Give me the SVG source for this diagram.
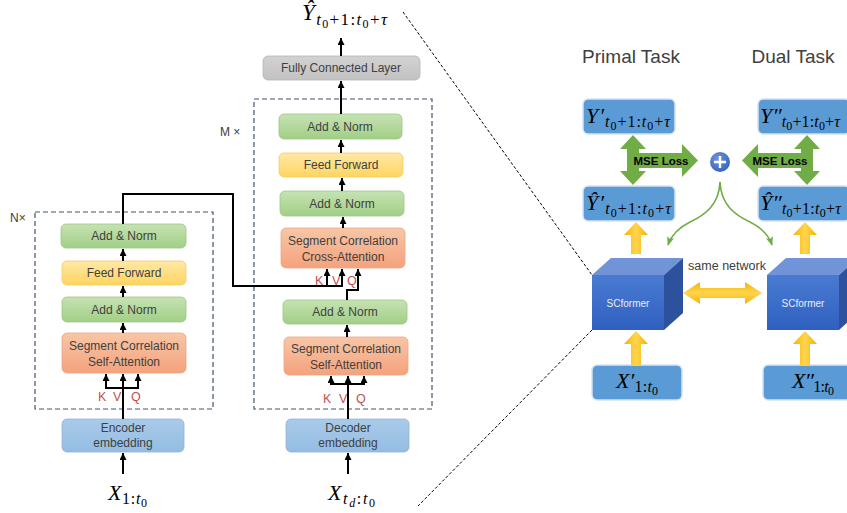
<svg xmlns="http://www.w3.org/2000/svg" width="847" height="513" viewBox="0 0 847 513">
  <defs>
    <style>
      .lbl { font-family: "Liberation Sans", Arial, sans-serif; font-size: 12px; fill: #404040; text-anchor: middle; }
      .kvq { font-family: "Liberation Sans", Arial, sans-serif; font-size: 12.5px; fill: #c0504d; }
      .math { font-family: "Liberation Serif", "DejaVu Serif", serif; fill: #000; }
      .it { font-style: italic; }
      .conn { fill: none; stroke: #000; stroke-width: 2; }
      .dash { fill: none; stroke: #44546a; stroke-width: 1.2; stroke-dasharray: 5 3; }
      .diag { fill: none; stroke: #000; stroke-width: 1; stroke-dasharray: 3 2; }
      .title { font-family: "Liberation Sans", Arial, sans-serif; font-size: 19px; fill: #404040; text-anchor: middle; }
      .mse { font-family: "Liberation Sans", Arial, sans-serif; font-size: 11.5px; font-weight: bold; fill: #000; text-anchor: middle; }
      .bluebox { fill: #5b9bd5; stroke: #d6e4f3; stroke-width: 1.5; }
      .green { fill: #70ad47; }
      .yellow { fill: url(#gYel); }
      .yellowh { fill: url(#gYelH); }
      .curve { fill: none; stroke: #70ad47; stroke-width: 1.6; }
    </style>
    <linearGradient id="gGreen" x1="0" y1="0" x2="0" y2="1">
      <stop offset="0" stop-color="#c6e2b3"/>
      <stop offset="1" stop-color="#a1cf86"/>
    </linearGradient>
    <linearGradient id="gYellow" x1="0" y1="0" x2="0" y2="1">
      <stop offset="0" stop-color="#ffe9a6"/>
      <stop offset="1" stop-color="#ffd461"/>
    </linearGradient>
    <linearGradient id="gSalmon" x1="0" y1="0" x2="0" y2="1">
      <stop offset="0" stop-color="#f8c6a6"/>
      <stop offset="1" stop-color="#f4a27d"/>
    </linearGradient>
    <linearGradient id="gBlueL" x1="0" y1="0" x2="0" y2="1">
      <stop offset="0" stop-color="#a9cbe9"/>
      <stop offset="1" stop-color="#94bce3"/>
    </linearGradient>
    <linearGradient id="gGray" x1="0" y1="0" x2="0" y2="1">
      <stop offset="0" stop-color="#d2d2d2"/>
      <stop offset="1" stop-color="#c2c2c2"/>
    </linearGradient>
    <linearGradient id="gYel" x1="0" y1="0" x2="1" y2="0">
      <stop offset="0" stop-color="#f5b400"/>
      <stop offset="0.5" stop-color="#ffd54f"/>
      <stop offset="1" stop-color="#f5b400"/>
    </linearGradient>
    <linearGradient id="gYelH" x1="0" y1="0" x2="0" y2="1">
      <stop offset="0" stop-color="#f5b400"/>
      <stop offset="0.5" stop-color="#ffd54f"/>
      <stop offset="1" stop-color="#f5b400"/>
    </linearGradient>
    <linearGradient id="gFront" x1="0" y1="0" x2="0" y2="1">
      <stop offset="0" stop-color="#4a7bd2"/>
      <stop offset="1" stop-color="#2f60c0"/>
    </linearGradient>
    <radialGradient id="gPlus" cx="0.4" cy="0.35" r="0.7">
      <stop offset="0" stop-color="#6f97e0"/>
      <stop offset="1" stop-color="#3562b8"/>
    </radialGradient>
    <marker id="ah" viewBox="0 0 10 10" refX="10" refY="5" markerWidth="7" markerHeight="7" markerUnits="userSpaceOnUse" orient="auto">
      <path d="M0,0 L10,5 L0,10 z" fill="#000"/>
    </marker>
    <marker id="gh" viewBox="0 0 10 10" refX="9" refY="5" markerWidth="9" markerHeight="9" markerUnits="userSpaceOnUse" orient="auto">
      <path d="M0,1 L10,5 L0,9 L2,5 z" fill="#70ad47"/>
    </marker>
  </defs>

  <rect width="847" height="513" fill="#fff"/>

  <!-- repeat blocks -->
  <rect class="dash" x="35" y="212" width="178" height="197"/>
  <text class="lbl" x="10" y="222" style="text-anchor:start">N×</text>
  <rect class="dash" x="254" y="99" width="178" height="310"/>
  <text class="lbl" x="220" y="136" style="text-anchor:start">M ×</text>

  <!-- encoder -->
  <g id="enc-embed"><rect x="62" y="419" width="122" height="33" rx="5" fill="url(#gBlueL)" stroke="#8fb4d9" stroke-width="0.8"/>
    <text class="lbl" x="123" y="432">Encoder</text><text class="lbl" x="123" y="447">embedding</text></g>
  <g id="enc-attn"><rect x="62" y="333" width="124" height="40" rx="5" fill="url(#gSalmon)" stroke="#eba688" stroke-width="0.8"/>
    <text class="lbl" x="124" y="350">Segment Correlation</text><text class="lbl" x="124" y="366">Self-Attention</text></g>
  <g id="enc-norm1"><rect x="62" y="297" width="124" height="25" rx="5" fill="url(#gGreen)" stroke="#9cc783" stroke-width="0.8"/>
    <text class="lbl" x="124" y="314">Add &amp; Norm</text></g>
  <g id="enc-ff"><rect x="62" y="261" width="124" height="24" rx="5" fill="url(#gYellow)" stroke="#f2cc66" stroke-width="0.8"/>
    <text class="lbl" x="124" y="277">Feed Forward</text></g>
  <g id="enc-norm2"><rect x="61" y="224" width="125" height="24" rx="5" fill="url(#gGreen)" stroke="#9cc783" stroke-width="0.8"/>
    <text class="lbl" x="124" y="240">Add &amp; Norm</text></g>
  <g id="enc-kvq"><text class="kvq" x="98" y="401">K</text><text class="kvq" x="113" y="401">V</text><text class="kvq" x="131" y="401">Q</text></g>
  <g id="enc-input"><text class="math" x="108" y="500" font-size="22" textLength="39"><tspan class="it">X</tspan><tspan font-size="16" dy="4">1:</tspan><tspan class="it" font-size="16">t</tspan><tspan font-size="12" dy="3">0</tspan></text></g>

  <!-- decoder -->
  <g id="dec-embed"><rect x="286" y="419" width="123" height="33" rx="5" fill="url(#gBlueL)" stroke="#8fb4d9" stroke-width="0.8"/>
    <text class="lbl" x="348" y="432">Decoder</text><text class="lbl" x="348" y="447">embedding</text></g>
  <g id="dec-attn"><rect x="284" y="337" width="124" height="38" rx="5" fill="url(#gSalmon)" stroke="#eba688" stroke-width="0.8"/>
    <text class="lbl" x="346" y="353">Segment Correlation</text><text class="lbl" x="346" y="369">Self-Attention</text></g>
  <g id="dec-norm1"><rect x="283" y="300" width="124" height="24" rx="5" fill="url(#gGreen)" stroke="#9cc783" stroke-width="0.8"/>
    <text class="lbl" x="345" y="316">Add &amp; Norm</text></g>
  <g id="dec-cross"><rect x="281" y="228" width="124" height="40" rx="5" fill="url(#gSalmon)" stroke="#eba688" stroke-width="0.8"/>
    <text class="lbl" x="343" y="245">Segment Correlation</text><text class="lbl" x="343" y="261">Cross-Attention</text></g>
  <g id="dec-norm2"><rect x="280" y="191" width="124" height="25" rx="5" fill="url(#gGreen)" stroke="#9cc783" stroke-width="0.8"/>
    <text class="lbl" x="342" y="208">Add &amp; Norm</text></g>
  <g id="dec-ff"><rect x="279" y="153" width="124" height="24" rx="5" fill="url(#gYellow)" stroke="#f2cc66" stroke-width="0.8"/>
    <text class="lbl" x="341" y="169">Feed Forward</text></g>
  <g id="dec-norm3"><rect x="279" y="114" width="123" height="25" rx="5" fill="url(#gGreen)" stroke="#9cc783" stroke-width="0.8"/>
    <text class="lbl" x="340" y="131">Add &amp; Norm</text></g>
  <g id="fc"><rect x="263" y="56" width="157" height="24" rx="5" fill="url(#gGray)" stroke="#b5b5b5" stroke-width="0.8"/>
    <text class="lbl" x="341" y="72">Fully Connected Layer</text></g>
  <g id="dec-kvq"><text class="kvq" x="323" y="403">K</text><text class="kvq" x="339" y="403">V</text><text class="kvq" x="356" y="403">Q</text></g>
  <g id="cross-kvq"><text class="kvq" x="315" y="285">K</text><text class="kvq" x="332" y="285">V</text><text class="kvq" x="347" y="285">Q</text></g>
  <g id="dec-input"><text class="math" x="328" y="500" font-size="22" textLength="47"><tspan class="it">X</tspan><tspan class="it" font-size="16" dy="4">t</tspan><tspan class="it" font-size="12" dy="3">d</tspan><tspan font-size="16" dy="-3">:</tspan><tspan class="it" font-size="16">t</tspan><tspan font-size="12" dy="3">0</tspan></text></g>
  <g id="output"><text class="math" x="302" y="20" font-size="23" textLength="85"><tspan class="it">Ŷ</tspan><tspan class="it" font-size="17" dy="5">t</tspan><tspan font-size="12" dy="3">0</tspan><tspan font-size="17" dy="-3">+1:</tspan><tspan class="it" font-size="17">t</tspan><tspan font-size="12" dy="3">0</tspan><tspan font-size="17" dy="-3">+</tspan><tspan class="it" font-size="17">τ</tspan></text></g>

  <!-- connectors -->
  <g id="connectors">
    <path class="conn" d="M123,474 V453" marker-end="url(#ah)"/>
    <path class="conn" d="M123,419 V374" marker-end="url(#ah)"/>
    <path class="conn" d="M106,388 H138"/>
    <path class="conn" d="M106,389 V374" marker-end="url(#ah)"/>
    <path class="conn" d="M138,389 V374" marker-end="url(#ah)"/>
    <path class="conn" d="M123,333 V323" marker-end="url(#ah)"/>
    <path class="conn" d="M123,297 V286" marker-end="url(#ah)"/>
    <path class="conn" d="M123,261 V249" marker-end="url(#ah)"/>
    <path class="conn" d="M123,224 V194 H233 V286 H342 V269" marker-end="url(#ah)"/>
    <path class="conn" d="M327,287 V269" marker-end="url(#ah)"/>

    <path class="conn" d="M348,474 V453" marker-end="url(#ah)"/>
    <path class="conn" d="M348,419 V376" marker-end="url(#ah)"/>
    <path class="conn" d="M331,384 H364"/>
    <path class="conn" d="M331,385 V376" marker-end="url(#ah)"/>
    <path class="conn" d="M364,385 V376" marker-end="url(#ah)"/>
    <path class="conn" d="M347,337 V325" marker-end="url(#ah)"/>
    <path class="conn" d="M347,300 V290 H358 V269" marker-end="url(#ah)"/>
    <path class="conn" d="M343,228 V217" marker-end="url(#ah)"/>
    <path class="conn" d="M342,191 V178" marker-end="url(#ah)"/>
    <path class="conn" d="M341,153 V140" marker-end="url(#ah)"/>
    <path class="conn" d="M341,114 V81" marker-end="url(#ah)"/>
    <path class="conn" d="M341,56 V38" marker-end="url(#ah)"/>

    <!-- zoom guides -->
    <path class="diag" d="M403,12 L592,275"/>
    <path class="diag" d="M592,330 L418,506"/>
  </g>

  <!-- dual learning panel -->
  <text class="title" x="631" y="63">Primal Task</text>
  <text class="title" x="793" y="63">Dual Task</text>

  <g id="y-primal"><rect class="bluebox" x="583" y="99" width="92" height="35" rx="5"/>
    <text class="math" x="586" y="123" font-size="22" textLength="84"><tspan class="it">Y′</tspan><tspan class="it" font-size="16" dy="4">t</tspan><tspan font-size="12" dy="3">0</tspan><tspan font-size="16" dy="-3">+1:</tspan><tspan class="it" font-size="16">t</tspan><tspan font-size="12" dy="3">0</tspan><tspan font-size="16" dy="-3">+</tspan><tspan class="it" font-size="16">τ</tspan></text></g>
  <g id="yhat-primal"><rect class="bluebox" x="583" y="186" width="92" height="35" rx="5"/>
    <text class="math" x="586" y="210" font-size="22" textLength="85"><tspan class="it">Ŷ′</tspan><tspan class="it" font-size="16" dy="4">t</tspan><tspan font-size="12" dy="3">0</tspan><tspan font-size="16" dy="-3">+1:</tspan><tspan class="it" font-size="16">t</tspan><tspan font-size="12" dy="3">0</tspan><tspan font-size="16" dy="-3">+</tspan><tspan class="it" font-size="16">τ</tspan></text></g>
  <g id="y-dual"><rect class="bluebox" x="758" y="99" width="92" height="35" rx="5"/>
    <text class="math" x="760" y="123" font-size="22" textLength="80"><tspan class="it">Y″</tspan><tspan class="it" font-size="16" dy="4">t</tspan><tspan font-size="12" dy="3">0</tspan><tspan font-size="16" dy="-3">+1:</tspan><tspan class="it" font-size="16">t</tspan><tspan font-size="12" dy="3">0</tspan><tspan font-size="16" dy="-3">+</tspan><tspan class="it" font-size="16">τ</tspan></text></g>
  <g id="yhat-dual"><rect class="bluebox" x="758" y="186" width="92" height="35" rx="5"/>
    <text class="math" x="760" y="210" font-size="22" textLength="81"><tspan class="it">Ŷ″</tspan><tspan class="it" font-size="16" dy="4">t</tspan><tspan font-size="12" dy="3">0</tspan><tspan font-size="16" dy="-3">+1:</tspan><tspan class="it" font-size="16">t</tspan><tspan font-size="12" dy="3">0</tspan><tspan font-size="16" dy="-3">+</tspan><tspan class="it" font-size="16">τ</tspan></text></g>
  <g id="x-primal"><rect class="bluebox" x="592" y="365" width="90" height="35" rx="5"/>
    <text class="math" x="616" y="388" font-size="22" textLength="42"><tspan class="it">X′</tspan><tspan font-size="16" dy="4">1:</tspan><tspan class="it" font-size="16">t</tspan><tspan font-size="12" dy="3">0</tspan></text></g>
  <g id="x-dual"><rect class="bluebox" x="763" y="365" width="90" height="35" rx="5"/>
    <text class="math" x="792" y="388" font-size="22" textLength="42"><tspan class="it">X″</tspan><tspan font-size="16" dy="4">1:</tspan><tspan class="it" font-size="16">t</tspan><tspan font-size="12" dy="3">0</tspan></text></g>

  <g id="scformer-primal">
    <polygon points="592,275 611,258 683,258 664,275" fill="#7194d9"/>
    <polygon points="664,275 683,258 683,313 664,330" fill="#2e519d"/>
    <rect x="592" y="275" width="72" height="55" fill="url(#gFront)"/>
    <text x="628" y="307" font-family="Liberation Sans, Arial, sans-serif" font-size="10" fill="#e8eefa" text-anchor="middle">SCformer</text>
  </g>
  <g id="scformer-dual">
    <polygon points="767,275 786,258 858,258 839,275" fill="#7194d9"/>
    <polygon points="839,275 858,258 858,313 839,330" fill="#2e519d"/>
    <rect x="767" y="275" width="72" height="55" fill="url(#gFront)"/>
    <text x="803" y="307" font-family="Liberation Sans, Arial, sans-serif" font-size="10" fill="#e8eefa" text-anchor="middle">SCformer</text>
  </g>

  <g id="plus">
    <circle cx="720" cy="162" r="10" fill="url(#gPlus)"/>
    <path d="M714,162 H726 M720,156 V168" stroke="#fff" stroke-width="2.4"/>
  </g>

  <g id="flow-arrows">
    <!-- loss arrows, primal side -->
    <polygon class="green" points="633,135 646,149 639,149 639,171 646,171 633,185 620,171 627,171 627,149 620,149"/>
    <polygon class="green" points="627,153 682,153 682,144 698,160.5 682,177 682,168 627,168"/>
    <text class="mse" x="661" y="164.5">MSE Loss</text>
    <!-- loss arrows, dual side -->
    <polygon class="green" points="807,135 820,149 813,149 813,171 820,171 807,185 794,171 801,171 801,149 794,149"/>
    <polygon class="green" points="813,153 758,153 758,144 742,160.5 758,177 758,168 813,168"/>
    <text class="mse" x="780" y="164.5">MSE Loss</text>

    <!-- shared weights -->
    <path class="curve" d="M720,182 C719,205 705,215 690,222 C678,228 671,236 668,245" marker-end="url(#gh)"/>
    <path class="curve" d="M720,182 C721,205 735,215 750,222 C762,228 769,236 772,245" marker-end="url(#gh)"/>
    <text x="727" y="270" font-family="Liberation Sans, Arial, sans-serif" font-size="12.5" fill="#404040" text-anchor="middle">same network</text>
    <polygon class="yellowh" points="683,293 700,282 700,288 745,288 745,282 762,293 745,304 745,298 700,298 700,304"/>

    <!-- data flow -->
    <polygon class="yellow" points="636,222 648,235 641,235 641,254 631,254 631,235 624,235"/>
    <polygon class="yellow" points="805,222 817,235 810,235 810,254 800,254 800,235 793,235"/>
    <polygon class="yellow" points="636,331 648,344 641,344 641,365 631,365 631,344 624,344"/>
    <polygon class="yellow" points="805,331 817,344 810,344 810,365 800,365 800,344 793,344"/>
  </g>
</svg>
